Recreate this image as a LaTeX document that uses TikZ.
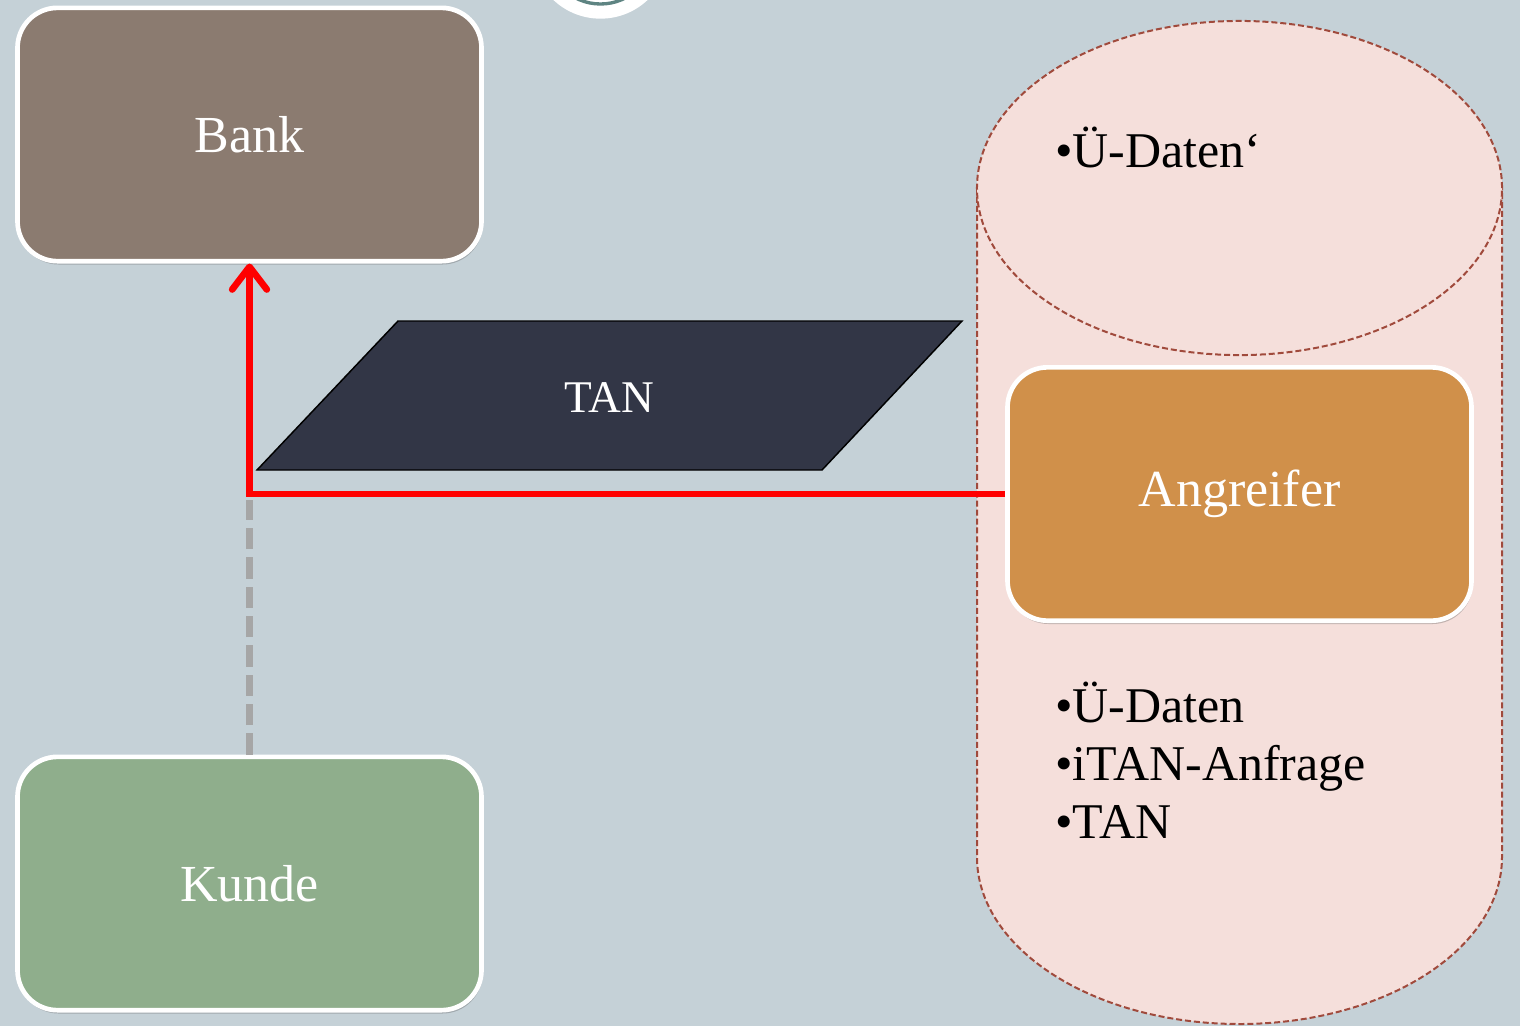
\documentclass[tikz,border=0pt]{standalone}
\usepackage{fontspec}
\setmainfont{Liberation Serif}
\usetikzlibrary{shadows,arrows.meta}
\definecolor{bg}{HTML}{C5D1D7}
\definecolor{bankc}{HTML}{8B7B70}
\definecolor{kundec}{HTML}{8FAE8C}
\definecolor{angc}{HTML}{D0904A}
\definecolor{tanc}{HTML}{323646}
\definecolor{cylfill}{HTML}{F5DFDB}
\definecolor{cyldraw}{HTML}{A04A3C}
\definecolor{teal}{HTML}{5E8482}
\definecolor{dashgray}{HTML}{A6A6A6}
\begin{document}
\begin{tikzpicture}[x=0.75pt,y=-0.75pt,
  box/.style={draw=white, line width=3.5pt, rounded corners=30pt,
    minimum width=348pt, minimum height=190pt, text=white, inner sep=0pt,
    font=\fontsize{39}{46}\selectfont,
    drop shadow={shadow xshift=0.8pt, shadow yshift=-2.5pt, opacity=0.3, fill=black!70}},
  cylline/.style={draw=cyldraw, line width=1.5pt, dash pattern=on 4.5pt off 2.2pt},
  listtext/.style={anchor=base west, inner sep=0pt,
    font=\fontsize{37.5}{43.5}\selectfont},
  redarrow/.style={draw=red, line width=5pt, -{Straight Barb[length=17pt,width=26pt,round]}},
  grayline/.style={draw=dashgray, line width=5pt, dash pattern=on 16pt off 6pt}
]
\useasboundingbox (0,0) rectangle (1520,1026);
\fill[bg] (0,0) rectangle (1520,1026);

% decorative circle at the top
\node[circle, fill=white, minimum size=103pt, inner sep=0pt] (logo) at (600.5,-50) {};
\node[circle, draw=teal, line width=2.5pt, minimum size=81pt, inner sep=0pt] (logoring) at (600.5,-50) {};

% cylinder
\fill[cylfill] (977,188) -- (977,857)
  .. controls (977,949.2) and (1094.5,1024) .. (1239.5,1024)
  .. controls (1384.5,1024) and (1502,949.2) .. (1502,857) -- (1502,188) -- cycle;
\path[cylline] (977,188) -- (977,857)
  .. controls (977,949.2) and (1094.5,1024) .. (1239.5,1024)
  .. controls (1384.5,1024) and (1502,949.2) .. (1502,857) -- (1502,188);
\path[cylline, fill=cylfill] (1239.5,188) ellipse [x radius=196.9pt, y radius=125.3pt];
\node[listtext] (udaten1) at (1055,167) {•Ü-Daten‘};
\node[listtext] (li1) at (1055,722) {•Ü-Daten};
\node[listtext] (li2) at (1055,780) {•iTAN-Anfrage};
\node[listtext] (li3) at (1055,838) {•TAN};

% TAN parallelogram
\path[fill=tanc, draw=black, line width=1.1pt] (398,321) -- (962,321) -- (822,470) -- (257,470) -- cycle;
\node[text=white, font=\fontsize{34}{40}\selectfont] (tan) at (609,398) {TAN};

% gray dashed connector
\coordinate (gtop) at (249.5,500);
\node[box, fill=kundec] (kunde) at (249.5,883.5) {Kunde};
\draw[grayline] (kunde.north) -- (gtop);

\node[box, fill=bankc] (bank) at (249.5,134.5) {Bank};
\node[box, fill=angc] (ang) at (1239.5,494) {\raisebox{-4pt}{Angreifer}};

% red arrow
\draw[redarrow] (ang.west) -| (bank.south);
\end{tikzpicture}
\end{document}
